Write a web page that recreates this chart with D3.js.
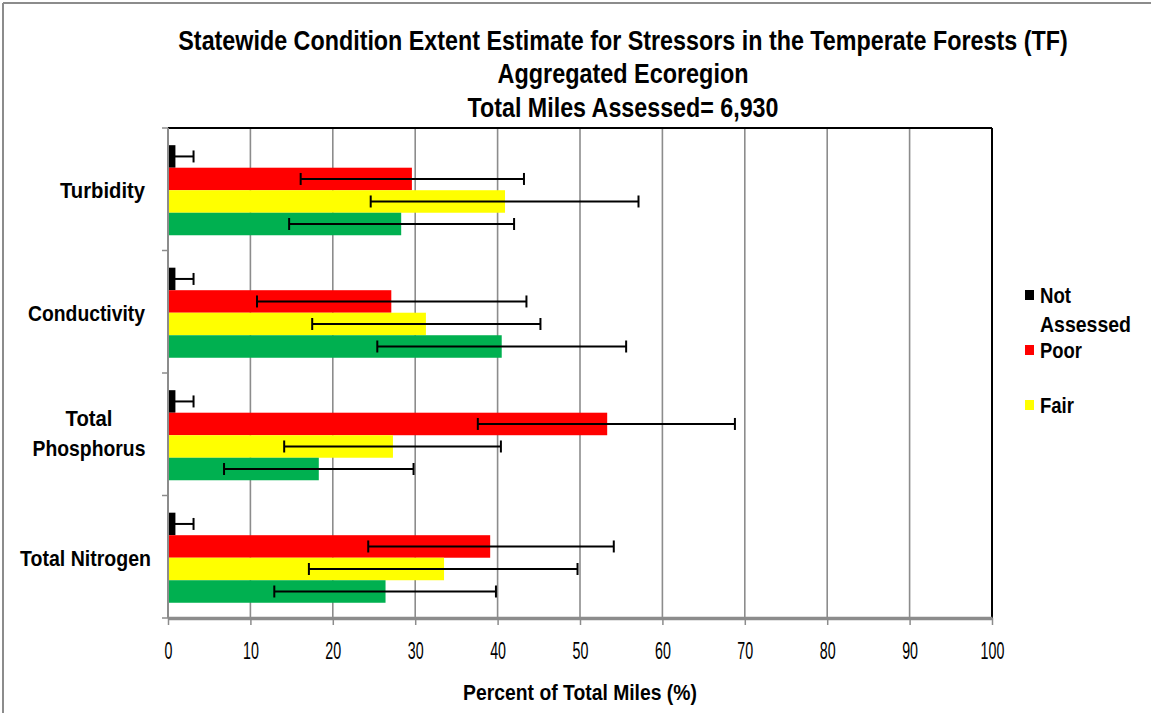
<!DOCTYPE html>
<html>
<head>
<meta charset="utf-8">
<script src="https://cdn.jsdelivr.net/npm/d3@7"></script>
<style>
  html, body { margin: 0; padding: 0; background: #fff; }
  svg { display: block; }
  text { font-family: "Liberation Sans", Arial, sans-serif; }
</style>
</head>
<body>
<svg id="chart" width="1151" height="713"></svg>
<script>
// ---- data ----
const categories = ["Turbidity", "Conductivity", "Total Phosphorus", "Total Nitrogen"];
const series = ["Not Assessed", "Poor", "Fair", "Good"];
const notAssessed = [0.9, 0.9, 0.9, 0.9];
const notAssessedLo = [0, 0, 0, 0];
const notAssessedHi = [3.1, 3.1, 3.1, 3.1];
const poor = [29.6, 27.1, 53.3, 39.1];
const poorLo = [16.1, 10.8, 37.6, 24.3];
const poorHi = [43.2, 43.5, 68.8, 54.1];
const fair = [40.9, 31.3, 27.3, 33.5];
const fairLo = [24.6, 17.5, 14.1, 17.1];
const fairHi = [57.1, 45.2, 40.4, 49.7];
const good = [28.3, 40.5, 18.3, 26.4];
const goodLo = [14.7, 25.4, 6.8, 12.9];
const goodHi = [42.0, 55.6, 29.8, 39.8];
const xTicks = [0, 10, 20, 30, 40, 50, 60, 70, 80, 90, 100];
const legendSeries = ["Not Assessed", "Poor", "Fair"];
const titleLines = ["Statewide Condition Extent Estimate for Stressors in the Temperate Forests (TF)",
                    "Aggregated Ecoregion", "Total Miles Assessed= 6,930"];
const xTitle = "Percent of Total Miles (%)";

const colors = {"Not Assessed": "#000000", "Poor": "#FF0000", "Fair": "#FFFF00", "Good": "#00B050"};
const seriesData = {
  "Not Assessed": [notAssessed, notAssessedLo, notAssessedHi],
  "Poor": [poor, poorLo, poorHi],
  "Fair": [fair, fairLo, fairHi],
  "Good": [good, goodLo, goodHi]
};

(function draw() {
const svg = d3.select("#chart");

// place a text at (px,py) and squeeze it horizontally to width w (narrow-font look)
function label(str, px, py, w, opts) {
  const g = svg.append("g");
  const t = g.append("text").attr("x", 0).attr("y", 0)
    .attr("text-anchor", opts.anchor || "start")
    .attr("font-weight", opts.bold ? "bold" : "normal")
    .attr("font-size", opts.size).attr("fill", "#000").text(str);
  const L = t.node().getComputedTextLength();
  g.attr("transform", `translate(${px},${py}) scale(${w / L},1)`);
  return g;
}

// outer frame (top and left gray edges)
svg.append("line").attr("x1", 3).attr("x2", 1151).attr("y1", 3).attr("y2", 3)
  .attr("stroke", "#8c8c8c").attr("stroke-width", 2);
svg.append("line").attr("x1", 3).attr("x2", 3).attr("y1", 3).attr("y2", 713)
  .attr("stroke", "#8c8c8c").attr("stroke-width", 2);

const pL = 168, pR = 992, pT = 128, pB = 618;
const x = d3.scaleLinear().domain([0, 100]).range([pL, pR]);
const y = d3.scaleBand().domain(categories).range([pT, pB]).padding(0);
const ys = d3.scaleBand().domain(series).range([0, y.bandwidth()]).paddingInner(0).paddingOuter(0.72).align(0.53);

// gridlines
svg.append("g").selectAll("line").data(xTicks.filter(d => d > 0 && d < 100)).join("line")
  .attr("x1", d => x(d)).attr("x2", d => x(d)).attr("y1", pT).attr("y2", pB)
  .attr("stroke", "#8c8c8c").attr("stroke-width", 1.6);

// bars
const barG = svg.append("g");
series.forEach(s => {
  const vals = seriesData[s][0];
  barG.append("g").selectAll("rect").data(categories).join("rect")
    .attr("x", x(0))
    .attr("y", c => y(c) + ys(s))
    .attr("width", (c, i) => x(vals[i]) - x(0))
    .attr("height", ys.bandwidth())
    .attr("fill", colors[s]);
});

// error bars
const errG = svg.append("g").attr("stroke", "#000").attr("stroke-width", 2);
series.forEach(s => {
  const lo = seriesData[s][1], hi = seriesData[s][2];
  categories.forEach((c, i) => {
    const cy = y(c) + ys(s) + ys.bandwidth() / 2;
    errG.append("line").attr("x1", x(lo[i])).attr("x2", x(hi[i])).attr("y1", cy).attr("y2", cy);
    errG.append("line").attr("x1", x(hi[i])).attr("x2", x(hi[i])).attr("y1", cy - 6).attr("y2", cy + 6);
    if (lo[i] > 0)
      errG.append("line").attr("x1", x(lo[i])).attr("x2", x(lo[i])).attr("y1", cy - 6).attr("y2", cy + 6);
  });
});

// plot frame: top and right black
svg.append("line").attr("x1", pL).attr("x2", pR).attr("y1", pT).attr("y2", pT)
  .attr("stroke", "#000").attr("stroke-width", 2);
svg.append("line").attr("x1", pR).attr("x2", pR).attr("y1", pT).attr("y2", pB)
  .attr("stroke", "#000").attr("stroke-width", 2);

// x axis
const xAxis = svg.append("g").attr("transform", `translate(0,${pB})`)
  .call(d3.axisBottom(x).tickValues(xTicks).tickSize(7).tickSizeOuter(0).tickPadding(18));
xAxis.select(".domain").attr("stroke", "#8c8c8c").attr("stroke-width", 3.5);
xAxis.selectAll(".tick line").attr("stroke", "#8c8c8c").attr("stroke-width", 1.5);
xAxis.selectAll(".tick text").attr("font-size", 23).attr("fill", "#000")
  .attr("font-family", "'Liberation Sans', Arial, sans-serif")
  .attr("transform", "scale(0.62,1)")
  .attr("x", 0);

// y axis
const yAxis = svg.append("g").attr("transform", `translate(${pL},0)`);
yAxis.append("line").attr("x1", 0).attr("x2", 0).attr("y1", pT).attr("y2", pB)
  .attr("stroke", "#8c8c8c").attr("stroke-width", 2);
const bounds = categories.map(c => y(c)).concat([pB]);
yAxis.selectAll(".bt").data(bounds).join("line").attr("class", "bt")
  .attr("x1", -6).attr("x2", 0).attr("y1", d => d).attr("y2", d => d)
  .attr("stroke", "#8c8c8c").attr("stroke-width", 1.5);

// category labels
const catLabelLines = {
  "Turbidity": [["Turbidity", 85]],
  "Conductivity": [["Conductivity", 117]],
  "Total Phosphorus": [["Total", 47], ["Phosphorus", 113]],
  "Total Nitrogen": [["Total Nitrogen", 131]]
};
categories.forEach(c => {
  const lines = catLabelLines[c];
  const two = lines.length > 1;
  const cy = y(c) + y.bandwidth() / 2 + (two ? -1 : 1);
  lines.forEach(([w, wd], k) => {
    const ty = cy + (k - (lines.length - 1) / 2) * 30 + 8;
    label(w, two ? 89 : (c === "Total Nitrogen" ? 151 : 145), ty, wd,
      {anchor: two ? "middle" : "end", bold: true, size: 22});
  });
});

// title
const titleWidths = [890, 251, 311];
titleLines.forEach((line, i) => {
  label(line, 623, [50, 83, 117][i], titleWidths[i], {anchor: "middle", bold: true, size: 28});
});

// x title
label(xTitle, 580, 700, 234, {anchor: "middle", bold: true, size: 22});

// legend
const legendPos = {"Not Assessed": 303, "Poor": 358, "Fair": 413};
const legendLines = {"Not Assessed": [["Not", 31], ["Assessed", 91]], "Poor": [["Poor", 42]], "Fair": [["Fair", 34]]};
legendSeries.forEach(s => {
  const ly = legendPos[s];
  svg.append("rect").attr("x", 1025).attr("y", ly - 13).attr("width", 9).attr("height", 10)
    .attr("fill", colors[s]);
  legendLines[s].forEach(([w, wd], k) => {
    label(w, 1040, ly + k * 29, wd, {bold: true, size: 22});
  });
});
})();
</script>
</body>
</html>
